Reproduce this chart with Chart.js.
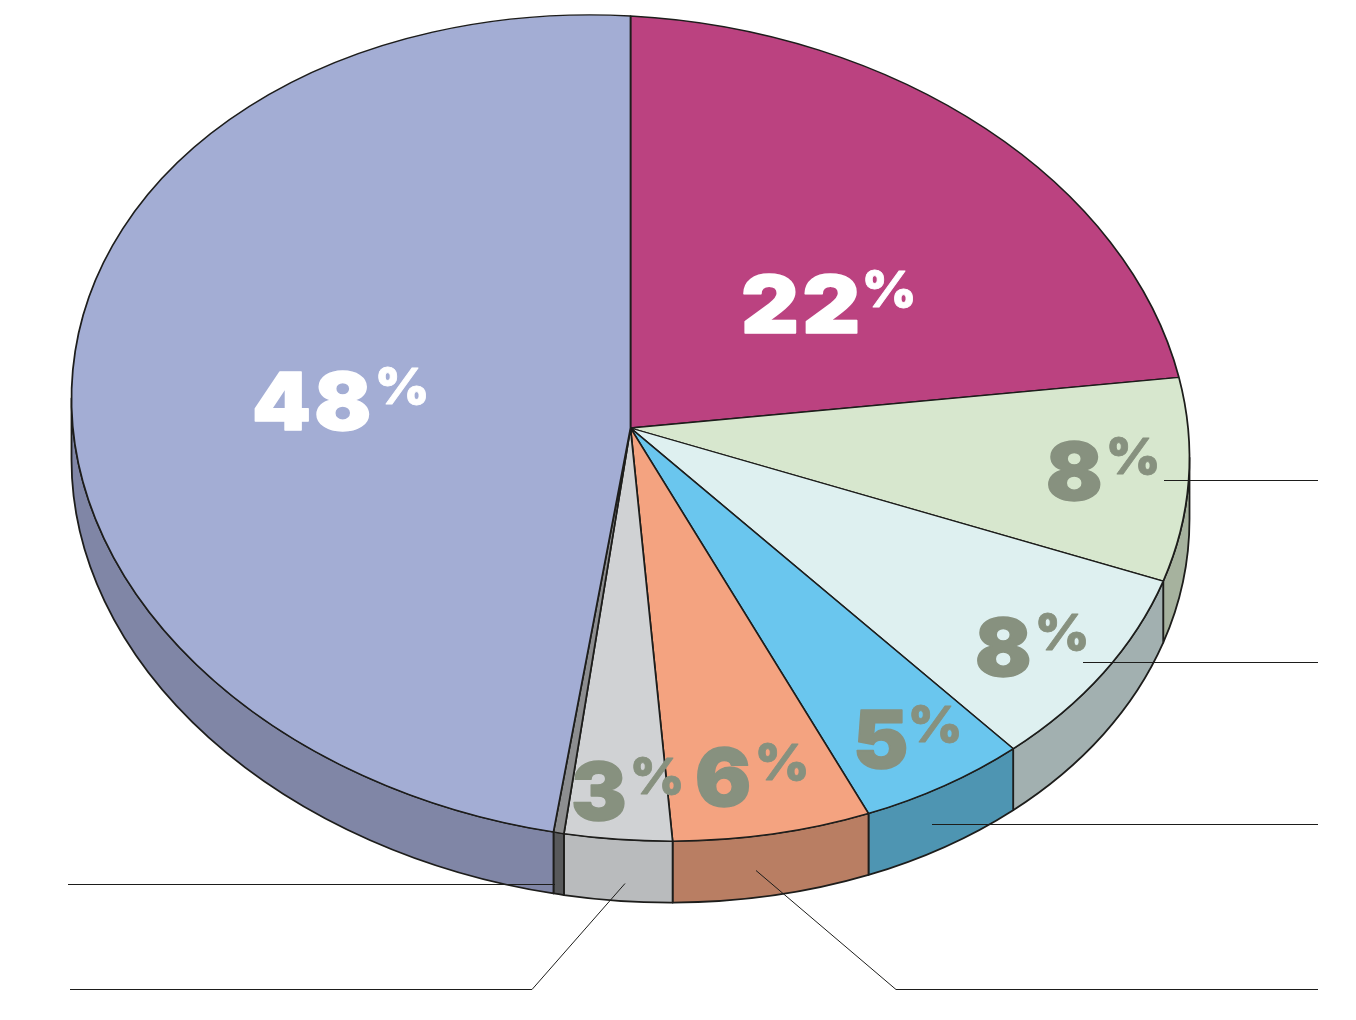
<!DOCTYPE html>
<html>
<head>
<meta charset="utf-8">
<title>Pie</title>
<script src="https://cdn.jsdelivr.net/npm/chart.js@4"></script>
<style>
  html, body { margin: 0; padding: 0; background: #fff; }
  canvas { display: block; }
</style>
</head>
<body>
<canvas id="pie" width="1356" height="1020"></canvas>
<script>
// slice shares, clockwise from 12 o'clock
const categories = ["a", "b", "c", "d", "e", "f", "g", "h"];
const shares = [21.9, 8, 8.1, 5, 5.8, 3.1, 0.3, 47.8];
const printedLabels = ["22", "8", "8", "5", "6", "3", "", "48"];

const topColors  = ["#BB4280", "#D7E7CE", "#DEF0F0", "#6AC6EE", "#F4A380", "#D0D2D4", "#8D8E90", "#A3ADD4"];
const sideColors = ["#8F3262", "#A6B29E", "#A2B0B0", "#4E95B2", "#B97E63", "#B9BBBD", "#58595B", "#8086A6"];
const labelColors = ["#FFFFFF", "#87917F", "#87917F", "#87917F", "#87917F", "#87917F", "", "#FFFFFF"];

// left edge of the number, baseline, left edge of the % sign, number stretch
const labelSpots = [[741, 333, 862, 1.12], [1046, 500, 1106, 1.04], [975, 676, 1035, 1.04], [853, 768, 908, 1.04], [695, 806, 755, 1.04], [571, 820, 630, 1.04], null, [252, 430, 375, 1.05]];

const leaders = [
  [[1164, 480], [1318, 480]],
  [[1083, 662], [1318, 662]],
  [[932, 824], [1318, 824]],
  [[756, 870], [896, 989], [1318, 989]],
  [[625, 883], [532, 989], [70, 989]],
  [[555, 884], [68, 884]]
];

// the drawn ellipse leans a little: lower on the right than on the left
const CX = 630.5, CY = 428, RX = 559, RY = 412, LEAN = 29.7, DEPTH = 61.5;
const INK = "#1d1d1b";

const tiltPlugin = {
  id: "tilt",
  beforeDatasetsDraw(chart) {
    const ctx = chart.ctx;
    const arcs = chart.getDatasetMeta(0).data;

    // wall under the front half of the rim
    ctx.save();
    ctx.strokeStyle = INK;
    ctx.lineWidth = 1.8;
    ctx.lineJoin = "round";
    arcs.forEach((arc, i) => {
      const a0 = Math.max(arc.startAngle, 0);
      const a1 = Math.min(arc.endAngle, Math.PI);
      if (a1 <= a0) return;
      ctx.save();
      ctx.transform(RX, LEAN, 0, RY, CX, CY);
      ctx.beginPath();
      ctx.arc(0, 0, 1, a0, a1);
      ctx.arc(0, DEPTH / RY, 1, a1, a0, true);
      ctx.closePath();
      ctx.restore();
      ctx.fillStyle = sideColors[i];
      ctx.fill();
      ctx.stroke();
    });
    ctx.restore();

    const arc = arcs[0];
    const r = arc.outerRadius;
    ctx.save();
    ctx.transform(RX / r, LEAN / r, 0, RY / r, CX, CY);
    ctx.translate(-arc.x, -arc.y);
  },
  afterDatasetsDraw(chart) {
    chart.ctx.restore();
  },
  afterDraw(chart) {
    const ctx = chart.ctx;

    ctx.save();
    ctx.strokeStyle = INK;
    ctx.lineWidth = 1;
    leaders.forEach((pts) => {
      ctx.beginPath();
      pts.forEach((p, i) => (i ? ctx.lineTo(p[0], p[1] + 0.5) : ctx.moveTo(p[0], p[1] + 0.5)));
      ctx.stroke();
    });
    ctx.restore();

    printedLabels.forEach((txt, i) => {
      if (!txt) return;
      const [x, base, pctX, stretch] = labelSpots[i];
      drawWide(ctx, txt, x, base, 80, stretch, labelColors[i], 1.5, "3px");
      drawWide(ctx, "%", pctX, base - 26, 50, 1.04, labelColors[i], 0.8, "0px");
    });
  }
};

function drawWide(ctx, txt, x, y, size, stretch, color, thicken, spacing) {
  ctx.save();
  ctx.translate(x, y);
  ctx.scale(stretch, 1);
  ctx.font = `900 ${size}px Inter, Lato, "DejaVu Sans", sans-serif`;
  ctx.letterSpacing = spacing;
  ctx.textBaseline = "alphabetic";
  ctx.fillStyle = color;
  ctx.fillText(txt, 0, 0);
  ctx.strokeStyle = color;
  ctx.lineWidth = thicken;
  ctx.lineJoin = "round";
  ctx.strokeText(txt, 0, 0);
  ctx.restore();
}

new Chart(document.getElementById("pie"), {
  type: "pie",
  data: {
    labels: categories,
    datasets: [{
      data: shares,
      backgroundColor: topColors,
      borderColor: INK,
      borderWidth: 1.6,
      clip: false
    }]
  },
  options: {
    responsive: false,
    animation: false,
    plugins: { legend: { display: false }, tooltip: { enabled: false } }
  },
  plugins: [tiltPlugin]
});
</script>
</body>
</html>
